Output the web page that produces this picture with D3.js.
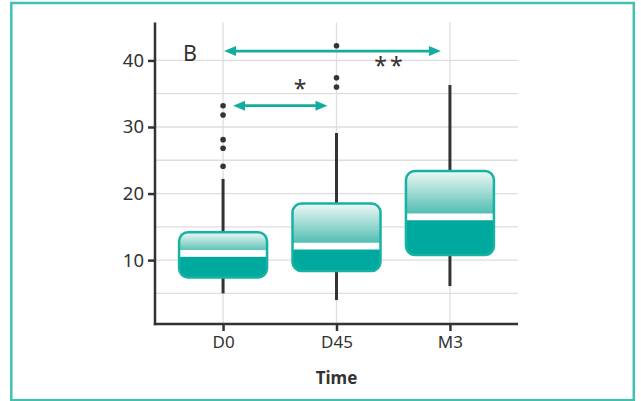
<!DOCTYPE html>
<html>
<head>
<meta charset="utf-8">
<script src="https://cdn.jsdelivr.net/npm/d3@7"></script>
<style>
  body { margin: 0; background: #fff; }
  svg text { font-family: "Noto Sans", "Open Sans", sans-serif; fill: #333; }
</style>
</head>
<body>
<div id="plot"></div>
<script>
// data
const times = ["D0", "D45", "M3"];
const whiskLow  = [5.0, 4.0, 6.1];
const q1        = [7.4, 8.35, 10.75];
const medians   = [11.0, 12.1, 16.5];
const q3        = [14.2, 18.5, 23.4];
const whiskHigh = [22.2, 29.1, 36.3];
const outliers  = [[33.2, 31.8, 28.1, 26.8, 24.1], [42.2, 37.4, 36.0], []];
const yTicks = [10, 20, 30, 40];
const yGrid = [5, 10, 15, 20, 25, 30, 35, 40];
// significance brackets
const compFrom = ["D0", "D0"];
const compTo   = ["M3", "D45"];
const compY    = [41.4, 33.2];
const compLab  = ["**", "*"];

const W = 641, H = 401;
const teal = "#00a99d";

const svg = d3.select("#plot").append("svg")
  .attr("width", W).attr("height", H);

const defs = svg.append("defs");
const grad = defs.append("linearGradient")
  .attr("id", "upper").attr("x1", 0).attr("x2", 0).attr("y1", 0).attr("y2", 1);
grad.append("stop").attr("offset", "0%").attr("stop-color", "#eef8f6");
grad.append("stop").attr("offset", "100%").attr("stop-color", "#45b9ad");

// outer frame
svg.append("rect")
  .attr("x", 11.3).attr("y", 3).attr("width", 622.5).attr("height", 397.2)
  .attr("fill", "none").attr("stroke", "#3ec1ae").attr("stroke-width", 2.5);

const pLeft = 155, pRight = 518, pTop = 22.5, pBottom = 324;

const x = d3.scalePoint().domain(times).range([pLeft, pRight]).padding(0.6);
const y = d3.scaleLinear().domain([0.4, 45.7]).range([pBottom, pTop]);

// grid
const grid = svg.append("g");
grid.selectAll("line.h").data(yGrid).join("line")
  .attr("x1", pLeft).attr("x2", pRight)
  .attr("y1", d => y(d)).attr("y2", d => y(d))
  .attr("stroke", "#dedede").attr("stroke-width", 1.3);
grid.selectAll("line.v").data(times).join("line")
  .attr("x1", d => x(d)).attr("x2", d => x(d))
  .attr("y1", pTop).attr("y2", pBottom)
  .attr("stroke", "#dedede").attr("stroke-width", 1.3);

// whiskers
svg.append("g").selectAll("line").data(times).join("line")
  .attr("x1", d => x(d)).attr("x2", d => x(d))
  .attr("y1", (d, i) => y(whiskLow[i])).attr("y2", (d, i) => y(whiskHigh[i]))
  .attr("stroke", "#333").attr("stroke-width", 3);

// outlier dots
const pts = [];
times.forEach((t, i) => outliers[i].forEach(v => pts.push({t, v})));
svg.append("g").selectAll("circle").data(pts).join("circle")
  .attr("cx", d => x(d.t)).attr("cy", d => y(d.v)).attr("r", 2.8)
  .attr("fill", "#333");

// boxes
const boxW = 88, rx = 9;
times.forEach((t, i) => {
  const bx = x(t) - boxW / 2, by = y(q3[i]), bh = y(q1[i]) - y(q3[i]);
  const ym = y(medians[i]);
  const cid = "clip" + i;
  defs.append("clipPath").attr("id", cid).append("rect")
    .attr("x", bx).attr("y", by).attr("width", boxW).attr("height", bh).attr("rx", rx);
  const g = svg.append("g").attr("clip-path", `url(#${cid})`);
  g.append("rect").attr("x", bx).attr("y", by).attr("width", boxW).attr("height", ym - by)
    .attr("fill", "url(#upper)");
  g.append("rect").attr("x", bx).attr("y", ym).attr("width", boxW).attr("height", by + bh - ym)
    .attr("fill", teal);
  g.append("rect").attr("x", bx).attr("y", ym - 3.4).attr("width", boxW).attr("height", 6.8)
    .attr("fill", "#fff");
  svg.append("rect").attr("x", bx).attr("y", by).attr("width", boxW).attr("height", bh)
    .attr("rx", rx).attr("fill", "none").attr("stroke", "#16b2a4").attr("stroke-width", 2.5);
});

// axes
const yAxis = svg.append("g").attr("transform", `translate(${pLeft},0)`)
  .call(d3.axisLeft(y).tickValues(yTicks).tickSize(7).tickPadding(4));
const xAxis = svg.append("g").attr("transform", `translate(0,${pBottom})`)
  .call(d3.axisBottom(x).tickSize(7).tickPadding(5));
[yAxis, xAxis].forEach(a => {
  a.select(".domain").remove();
  a.selectAll("line").attr("stroke", "#333").attr("stroke-width", 2.5);
  a.selectAll("text").attr("fill", "#333")
    .style("font-family", "'Noto Sans', sans-serif");
});
yAxis.selectAll("text").attr("font-size", 18.5);
xAxis.selectAll("text").attr("font-size", 17);
svg.append("line").attr("x1", pLeft).attr("x2", pLeft).attr("y1", pTop).attr("y2", pBottom + 1.2)
  .attr("stroke", "#333").attr("stroke-width", 2.5);
svg.append("line").attr("x1", pLeft - 1.2).attr("x2", pRight).attr("y1", pBottom).attr("y2", pBottom)
  .attr("stroke", "#333").attr("stroke-width", 2.5);

// axis title and panel letter
svg.append("text").attr("x", x("D45")).attr("y", 384).attr("text-anchor", "middle")
  .attr("font-size", 17).attr("font-weight", "bold").text("Time");
svg.append("text").attr("x", 190).attr("y", 61).attr("text-anchor", "middle")
  .attr("font-size", 21.5).text("B");

// significance arrows
const insetL = [1, 10], insetR = [9, 9];
const arrowCol = "#13ad9f", head = 12, half = 5;
compY.forEach((v, i) => {
  const x1 = x(compFrom[i]) + insetL[i], x2 = x(compTo[i]) - insetR[i], yy = y(v);
  svg.append("line").attr("x1", x1 + head - 1).attr("x2", x2 - head + 1)
    .attr("y1", yy).attr("y2", yy).attr("stroke", arrowCol).attr("stroke-width", 2.8);
  svg.append("path")
    .attr("d", `M${x1},${yy}L${x1 + head},${yy - half}L${x1 + head},${yy + half}Z` +
               `M${x2},${yy}L${x2 - head},${yy - half}L${x2 - head},${yy + half}Z`)
    .attr("fill", arrowCol);
});
// star labels
const starX = [390, 300], starY = [74, 97];
compLab.forEach((s, i) => {
  svg.append("text").attr("x", starX[i]).attr("y", starY[i]).attr("text-anchor", "middle")
    .attr("font-size", 23).attr("letter-spacing", i === 0 ? 3 : 0).text(s);
});
</script>
</body>
</html>
